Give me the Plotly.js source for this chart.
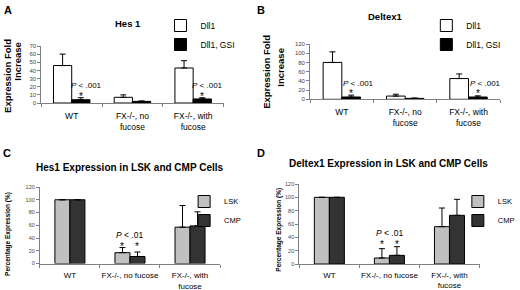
<!DOCTYPE html>
<html><head><meta charset="utf-8">
<script src="https://cdn.plot.ly/plotly-3.0.1.min.js"></script>
<style>html,body{margin:0;padding:0;background:#fff}#chart{width:520px;height:290px}</style>
</head><body><div id="chart"></div>
<script>
// ---- data ----
const catsTop = ['WT', 'FX-/-, no<br>fucose', 'FX-/-, with<br>fucose'];
const catsBot = ['WT', 'FX-/-, no fucose', 'FX-/-, with<br>fucose'];
const seriesTop = ['Dll1', 'Dll1, GSI'];
const seriesBot = ['LSK', 'CMP'];

const hesDll1 = [46, 7, 43];
const hesDll1Err = [14, 3, 9];
const hesGsi = [4, 2, 5];
const hesGsiErr = [2.5, 0.5, 1.5];

const dtxDll1 = [80, 7, 45];
const dtxDll1Err = [23, 4, 10];
const dtxGsi = [5, 2, 5];
const dtxGsiErr = [4, 0.8, 2.5];

const hesLSK = [100, 17, 57];
const hesLSKErr = [0, 8, 34];
const hesCMP = [100, 11, 59];
const hesCMPErr = [0, 7, 22];

const dtxLSK = [100, 9, 56];
const dtxLSKErr = [0, 14, 28];
const dtxCMP = [100, 13, 73];
const dtxCMPErr = [0, 13, 24];

const titles = ['Hes 1', 'Deltex1', 'Hes1 Expression in LSK and CMP Cells', 'Deltex1 Expression in LSK and CMP Cells'];
const panelLetters = ['A', 'B', 'C', 'D'];
const pTop = '<i>P</i> &lt; .001';
const pBot = '<i>P</i> &lt; .01';

// ---- layout helpers ----
const W = 520, H = 290;
const F = "Arial, 'Liberation Sans', sans-serif";
const xd = (a, b) => [a / W, b / W];
const yd = (bot, top) => [1 - bot / H, 1 - top / H];
const px = v => v / W, py = v => 1 - v / H;

function bar(xa, ya, cats, name, vals, errs, fill, offset, width, legend) {
  return {
    type: 'bar', x: cats, y: vals, name: name, xaxis: xa, yaxis: ya, legend: legend,
    offset: offset, width: width,
    marker: {color: fill, line: {color: '#000', width: 1}},
    error_y: {type: 'data', symmetric: false, array: errs, arrayminus: errs.map(() => 0),
              color: '#000', thickness: 1, width: 3},
    hoverinfo: 'skip'
  };
}

const data = [
  bar('x', 'y', catsTop, seriesTop[0], hesDll1, hesDll1Err, '#ffffff', -0.3, 0.3, 'legend'),
  bar('x', 'y', catsTop, seriesTop[1], hesGsi, hesGsiErr, '#000000', 0, 0.3, 'legend'),
  bar('x2', 'y2', catsTop, seriesTop[0], dtxDll1, dtxDll1Err, '#ffffff', -0.295, 0.295, 'legend2'),
  bar('x2', 'y2', catsTop, seriesTop[1], dtxGsi, dtxGsiErr, '#000000', 0, 0.295, 'legend2'),
  bar('x3', 'y3', catsBot, seriesBot[0], hesLSK, hesLSKErr, '#c0c0c0', -0.25, 0.25, 'legend3'),
  bar('x3', 'y3', catsBot, seriesBot[1], hesCMP, hesCMPErr, '#333333', 0, 0.25, 'legend3'),
  bar('x4', 'y4', catsBot, seriesBot[0], dtxLSK, dtxLSKErr, '#c0c0c0', -0.25, 0.25, 'legend4'),
  bar('x4', 'y4', catsBot, seriesBot[1], dtxCMP, dtxCMPErr, '#333333', 0, 0.25, 'legend4')
];

function xax(dom, anchor, size, standoff) {
  return {domain: dom, anchor: anchor, type: 'category', range: [-0.5, 2.5],
    showline: true, linecolor: '#808080', linewidth: 1, ticks: 'outside', tickson: 'boundaries',
    ticklen: 3, tickcolor: '#808080', tickwidth: 1, showgrid: false, zeroline: false, tickangle: 0,
    tickfont: {family: F, size: size, color: '#000'}, ticklabelstandoff: standoff, fixedrange: true};
}
function yax(dom, anchor, max, dtick, size) {
  return {domain: dom, anchor: anchor, range: [0, max], dtick: dtick,
    showline: true, linecolor: '#808080', linewidth: 1, ticks: 'outside', ticklen: 3,
    tickcolor: '#808080', tickwidth: 1, showgrid: false, zeroline: false,
    tickfont: {family: F, size: size, color: '#444'}, fixedrange: true};
}
function leg(x, y, size) {
  return {x: px(x), y: py(y), xanchor: 'left', yanchor: 'top', bgcolor: 'rgba(0,0,0,0)',
    borderwidth: 0, itemwidth: 30, tracegroupgap: 0, traceorder: 'normal',
    font: {family: F, size: size, color: '#000'}};
}

const ann = [];
function paperText(text, x, y, size, angle) {
  ann.push({xref: 'paper', yref: 'paper', x: px(x), y: py(y), xanchor: 'center', yanchor: 'middle',
    text: text, showarrow: false, textangle: angle || 0, font: {family: F, size: size, color: '#000'}});
}
function dataText(xr, yr, text, x, y, size, yshift) {
  ann.push({xref: xr, yref: yr, x: x, y: y, xanchor: 'center', yanchor: 'middle', text: text,
    showarrow: false, yshift: yshift || 0, font: {family: F, size: size, color: '#000'}});
}

// panel letters
paperText('<b>' + panelLetters[0] + '</b>', 8, 10, 11);
paperText('<b>' + panelLetters[1] + '</b>', 265, 10, 11);
paperText('<b>' + panelLetters[2] + '</b>', 7, 153, 11);
paperText('<b>' + panelLetters[3] + '</b>', 265, 153, 11);
// titles
paperText('<b>' + titles[0] + '</b>', 130, 23, 9.5);
paperText('<b>' + titles[1] + '</b>', 392, 16, 9.5);
paperText('<b>' + titles[2] + '</b>', 132, 167, 10);
paperText('<b>' + titles[3] + '</b>', 395, 163, 10);
// y titles
paperText('<b>Expression Fold</b>', 7, 76, 9.5, -90);
paperText('<b>Increase</b>', 18, 61, 9.5, -90);
paperText('<b>Expression Fold</b>', 270, 72, 9.5, -90);
paperText('<b>Increase</b>', 284, 67, 9.5, -90);
paperText('<b>Percentage Expression (%)</b>', 8, 234, 6.5, -90);
paperText('<b>Percentage Expression (%)</b>', 283, 230, 6.5, -90);
// significance marks
dataText('x', 'y', pTop, 0.24, 21, 8);
dataText('x', 'y', '*', 0.15, 12, 10, -3);
dataText('x', 'y', pTop, 2.24, 21, 8);
dataText('x', 'y', '*', 2.15, 12, 10, -3);
dataText('x2', 'y2', pTop, 0.27, 35, 8);
dataText('x2', 'y2', '*', 0.15, 19, 10, -3);
dataText('x2', 'y2', pTop, 2.27, 35, 8);
dataText('x2', 'y2', '*', 2.15, 19, 10, -3);
dataText('x3', 'y3', pBot, 1, 44, 8.5);
dataText('x3', 'y3', '*', 0.875, 32, 10, -3);
dataText('x3', 'y3', '*', 1.125, 32, 10, -3);
dataText('x4', 'y4', pBot, 1, 46, 8.5);
dataText('x4', 'y4', '*', 0.875, 33.5, 10, -3);
dataText('x4', 'y4', '*', 1.125, 33.5, 10, -3);

const layout = {
  width: W, height: H, margin: {l: 0, r: 0, t: 0, b: 0},
  paper_bgcolor: '#fff', plot_bgcolor: '#fff', barmode: 'overlay', hovermode: false,
  showlegend: true,
  xaxis: xax(xd(42, 227), 'y', 8.5, 5),
  yaxis: yax(yd(103, 46), 'x', 70, 10, 6),
  xaxis2: xax(xd(315, 508), 'y2', 8.5, 4),
  yaxis2: yax(yd(99.3, 44), 'x2', 120, 20, 6),
  xaxis3: xax(xd(40.5, 223.5), 'y3', 8, 4),
  yaxis3: yax(yd(263.5, 187), 'x3', 120, 20, 5.5),
  xaxis4: xax(xd(304, 487), 'y4', 8, 3),
  yaxis4: yax(yd(264, 184), 'x4', 120, 20, 5.5),
  legend: leg(163, 11, 8.5),
  legend2: leg(433, 11, 8.5),
  legend3: leg(187, 187, 7.5),
  legend4: leg(465, 187, 7.5),
  annotations: ann
};

Plotly.newPlot('chart', data, layout, {staticPlot: true, displayModeBar: false});
</script></body></html>
